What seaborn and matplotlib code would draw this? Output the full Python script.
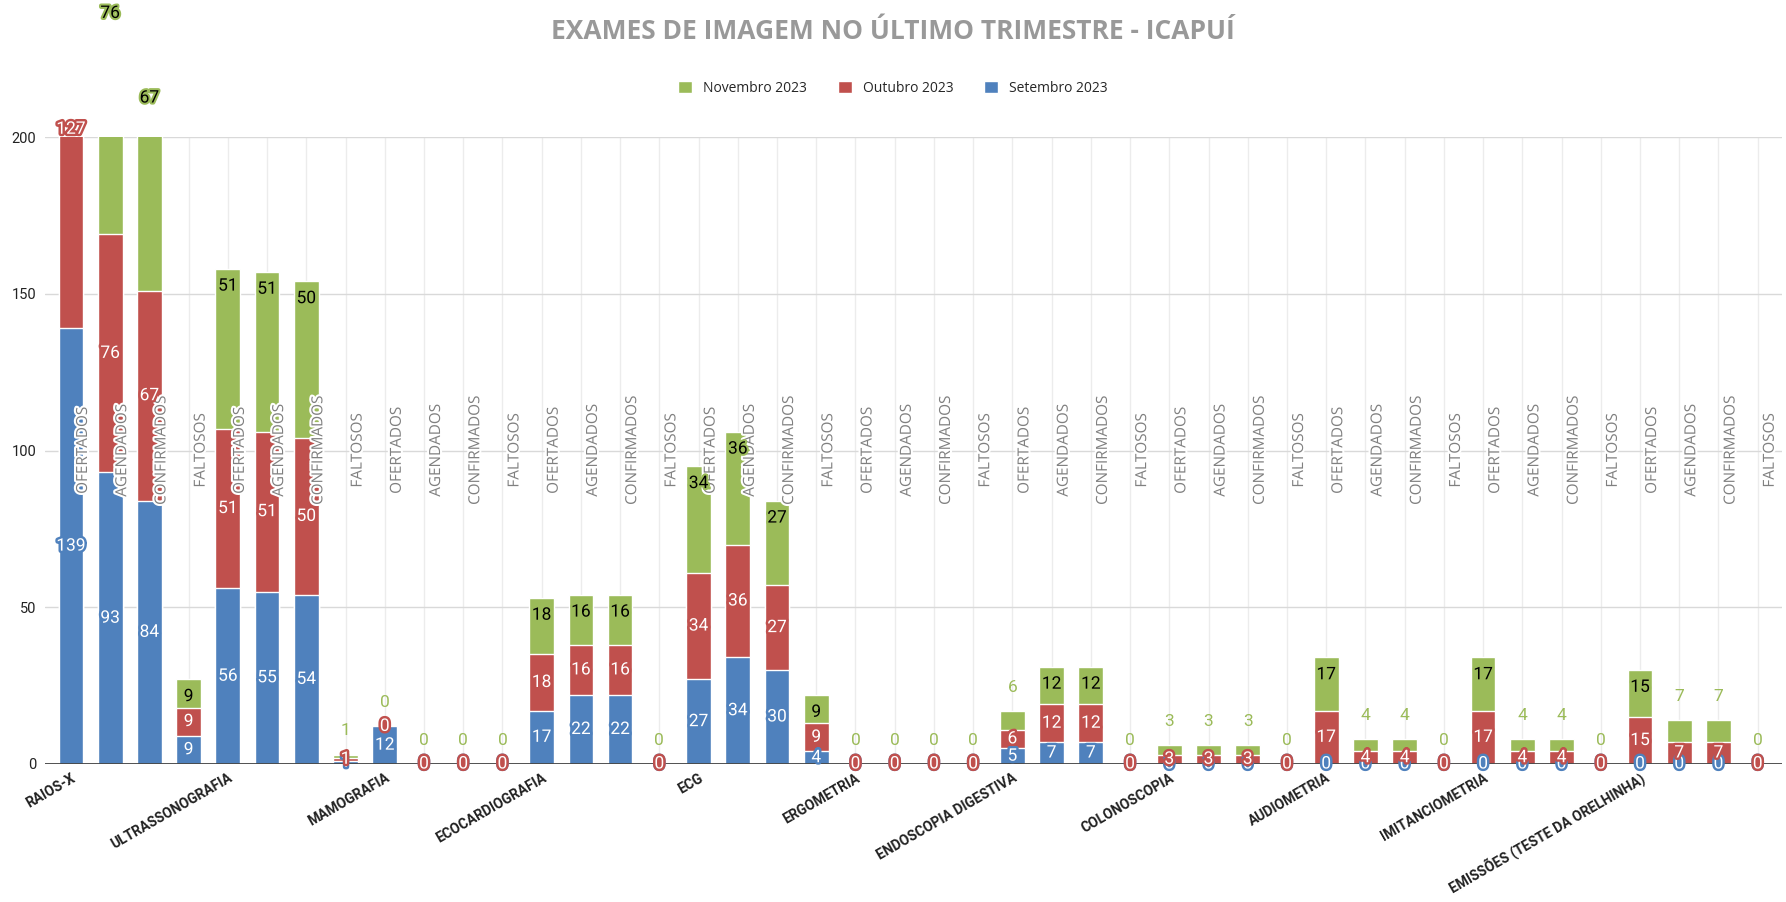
import numpy as np
import pandas as pd
import seaborn as sns
import matplotlib.pyplot as plt
import matplotlib.patheffects as pe
import matplotlib.transforms as mtransforms
from matplotlib.patches import Patch

# Exames e situacoes (cada exame tem 4 barras)
exames = ['RAIOS-X', 'ULTRASSONOGRAFIA', 'MAMOGRAFIA', 'ECOCARDIOGRAFIA', 'ECG',
          'ERGOMETRIA', 'ENDOSCOPIA DIGESTIVA', 'COLONOSCOPIA', 'AUDIOMETRIA',
          'IMITANCIOMETRIA', 'EMISSÕES (TESTE DA ORELHINHA)']
situacoes = ['OFERTADOS', 'AGENDADOS', 'CONFIRMADOS', 'FALTOSOS']

setembro = [139, 93, 84, 9, 56, 55, 54, 1, 12, 0, 0, 0, 17, 22, 22, 0,
            27, 34, 30, 4, 0, 0, 0, 0, 5, 7, 7, 0, 0, 0, 0, 0,
            0, 0, 0, 0, 0, 0, 0, 0, 0, 0, 0, 0]
outubro = [127, 76, 67, 9, 51, 51, 50, 1, 0, 0, 0, 0, 18, 16, 16, 0,
           34, 36, 27, 9, 0, 0, 0, 0, 6, 12, 12, 0, 3, 3, 3, 0,
           17, 4, 4, 0, 17, 4, 4, 0, 15, 7, 7, 0]
novembro = [127, 76, 67, 9, 51, 51, 50, 1, 0, 0, 0, 0, 18, 16, 16, 0,
            34, 36, 27, 9, 0, 0, 0, 0, 6, 12, 12, 0, 3, 3, 3, 0,
            17, 4, 4, 0, 17, 4, 4, 0, 15, 7, 7, 0]

meses = ['Novembro 2023', 'Outubro 2023', 'Setembro 2023']
cores = {'Novembro 2023': '#9BBB59', 'Outubro 2023': '#C0504D', 'Setembro 2023': '#4F81BD'}

df = pd.DataFrame({'pos': range(len(setembro)), 'set': setembro, 'out': outubro, 'nov': novembro})
df['topo_out'] = df['set'] + df['out']
df['topo_nov'] = df['topo_out'] + df['nov']

sns.set_style('white')
plt.rcParams['font.family'] = ['Roboto', 'DejaVu Sans']

fig = plt.figure(figsize=(17.86, 9.02), dpi=100)
ax = fig.add_axes([0.025, 0.153, 0.973, 0.695])

# barras empilhadas: desenha o total e depois as camadas de baixo por cima
w = 0.63
sns.barplot(data=df, x='pos', y='topo_nov', color=cores['Novembro 2023'], width=w, saturation=1, ax=ax, zorder=2)
sns.barplot(data=df, x='pos', y='topo_out', color=cores['Outubro 2023'], width=w, saturation=1, ax=ax, zorder=2)
sns.barplot(data=df, x='pos', y='set', color=cores['Setembro 2023'], width=w, saturation=1, ax=ax, zorder=2)

ax.set_ylim(0, 200)
ax.set_xlim(-0.67, 43.63)
ax.set_yticks([0, 50, 100, 150, 200])
ax.set_xticks(range(len(setembro)), minor=True)
ax.set_xticks(range(0, len(setembro), 4))
ax.set_xticklabels(exames, rotation=30, ha='right', va='top', rotation_mode='anchor',
                   fontsize=10, fontweight='bold', color='#222222')
desloc = mtransforms.ScaledTranslation(12 / 100, 0, fig.dpi_scale_trans)
for lbl in ax.get_xticklabels():
    lbl.set_transform(lbl.get_transform() + desloc)
ax.tick_params(axis='both', which='both', length=0)
ax.tick_params(axis='y', labelsize=10.5, labelcolor='#222222', pad=6)
ax.tick_params(axis='x', pad=5)
ax.set_xlabel('')
ax.set_ylabel('')
ax.grid(axis='y', color='#d9d9d9', lw=1)
ax.grid(axis='x', which='both', color='#ececec', lw=1)
ax.set_axisbelow(True)
for s in ax.spines.values():
    s.set_visible(False)
ax.axhline(0, color='#444444', lw=1.3, zorder=3)

# nomes das situacoes na vertical
halo = [pe.withStroke(linewidth=3, foreground='white')]
for i in range(len(setembro)):
    ax.text(i + 0.32, 100, situacoes[i % 4], rotation=90, ha='center', va='center',
            fontsize=11, color='#808080', family='Open Sans', zorder=5, path_effects=halo)

# rotulos de dados
for i, row in df.iterrows():
    b = row['set']
    ax.text(i, b / 2, str(b), ha='center', va='center', color='white', fontsize=12.5, zorder=6,
            path_effects=[pe.withStroke(linewidth=3.5, foreground=cores['Setembro 2023'])])
for i, row in df.iterrows():
    b, r = row['set'], row['out']
    ax.text(i, b + r / 2, str(r), ha='center', va='center', color='white', fontsize=12.5, zorder=7,
            path_effects=[pe.withStroke(linewidth=3.5, foreground=cores['Outubro 2023'])])
for i, row in df.iterrows():
    g, topo = row['nov'], row['topo_nov']
    if g >= 8:
        ax.annotate(str(g), (i, topo), xytext=(0, -12.5), textcoords='offset points',
                    ha='center', va='center', color='black', fontsize=12.5, zorder=8,
                    annotation_clip=False,
                    path_effects=[pe.withStroke(linewidth=3, foreground=cores['Novembro 2023'])])
    else:
        ax.annotate(str(g), (i, topo), xytext=(0, 17), textcoords='offset points',
                    ha='center', va='center', color=cores['Novembro 2023'], fontsize=12.5, zorder=8,
                    annotation_clip=False)

handles = [Patch(facecolor=cores[m], label=m) for m in meses]
fig.legend(handles=handles, loc='center', bbox_to_anchor=(0.5, 0.902), ncol=3, frameon=False,
           handlelength=1.0, handleheight=1.0, columnspacing=2.2, handletextpad=0.8,
           prop={'family': 'Open Sans', 'size': 10})

fig.text(0.5, 0.965, 'EXAMES DE IMAGEM NO ÚLTIMO TRIMESTRE - ICAPUÍ', ha='center', va='center',
         fontsize=19, fontweight='bold', color='#999999', family='Open Sans')

fig.savefig('out.png', dpi=100)
